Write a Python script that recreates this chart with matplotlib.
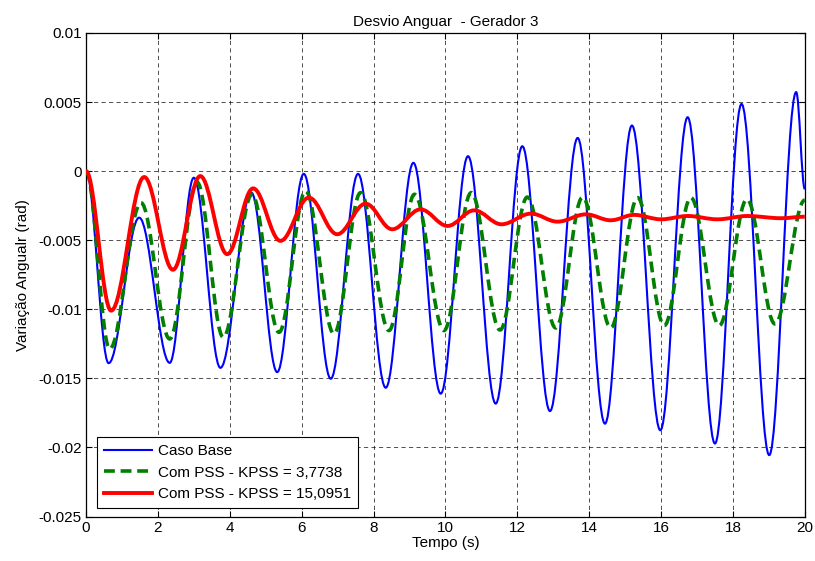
import matplotlib
matplotlib.use("Agg")
import matplotlib.pyplot as plt
from matplotlib.path import Path
from matplotlib.patches import PathPatch
from matplotlib.lines import Line2D

plt.rcParams["font.family"] = ["Liberation Sans", "DejaVu Sans"]

# peaks / troughs (time in s, deviation in rad)
base_t = [0, 0.63, 1.48, 2.33, 3.0, 3.74, 4.6, 5.32, 6.06, 6.81, 7.57, 8.34, 9.11, 9.87,
          10.63, 11.40, 12.14, 12.91, 13.68, 14.44, 15.19, 15.98, 16.74, 17.50, 18.24,
          19.01, 19.76, 20.0]
base_v = [0, -0.0139, -0.00337, -0.01388, -0.00048, -0.01424, -0.00156, -0.01455, -0.0002,
          -0.01503, -0.0002, -0.01568, 0.0006, -0.01611, 0.00108, -0.01683, 0.0018, -0.01737,
          0.0024, -0.01828, 0.0033, -0.01876, 0.0039, -0.01972, 0.00486, -0.02056, 0.00572,
          -0.0013]

pss1_t = [0, 0.66, 1.53, 2.33, 3.09, 3.82, 4.62, 5.37, 6.11, 6.90, 7.64, 8.43, 9.14, 9.96,
          10.72, 11.52, 12.28, 13.07, 13.82, 14.60, 15.35, 16.09, 16.83, 17.62, 18.39, 19.17,
          20.0]
pss1_v = [0, -0.01287, -0.00229, -0.01215, -0.0008, -0.01203, -0.00168, -0.01167, -0.00144,
          -0.01178, -0.00156, -0.01154, -0.00168, -0.01154, -0.00156, -0.0115, -0.00188,
          -0.01135, -0.00188, -0.01135, -0.00192, -0.01118, -0.00192, -0.01118, -0.00204,
          -0.01106, -0.0021]

pss2_t = [0, 0.70, 1.62, 2.42, 3.18, 3.93, 4.65, 5.41, 6.20, 6.99, 7.78, 8.52, 9.31, 10.06,
          10.80, 11.56, 12.38, 13.12, 13.91, 14.60, 15.25, 16.0, 16.74, 17.57, 18.4, 19.34, 20.0]
pss2_v = [0, -0.0101, -0.00043, -0.00714, -0.00036, -0.00601, -0.00125, -0.00505, -0.00192,
          -0.00457, -0.00236, -0.00421, -0.00277, -0.00397, -0.00284, -0.00385, -0.00308,
          -0.00366, -0.00313, -0.00356, -0.00317, -0.00349, -0.00325, -0.00349, -0.00325,
          -0.00341, -0.0033]

labels = ["Caso Base", "Com PSS - KPSS = 3,7738", "Com PSS - KPSS = 15,0951"]
x_ticks = [0, 2, 4, 6, 8, 10, 12, 14, 16, 18, 20]
y_ticks = [0.01, 0.005, 0, -0.005, -0.01, -0.015, -0.02, -0.025]
y_tick_labels = ["0.01", "0.005", "0", "-0.005", "-0.01", "-0.015", "-0.02", "-0.025"]

FS = 11


def extrema_path(ts, vs, c=0.3642):
    # cubic Bezier between successive extrema, flat tangent at each one
    verts = [(ts[0], vs[0])]
    codes = [Path.MOVETO]
    for t0, v0, t1, v1 in zip(ts[:-1], vs[:-1], ts[1:], vs[1:]):
        dt = t1 - t0
        verts += [(t0 + c * dt, v0), (t1 - c * dt, v1), (t1, v1)]
        codes += [Path.CURVE4] * 3
    return Path(verts, codes)


fig = plt.figure(figsize=(8.15, 5.61), dpi=100)
ax = fig.add_axes([0.1055, 0.0793, 0.882, 0.862])

styles = [
    dict(color="#0000ff", lw=1.5, ls="-"),
    dict(color="#007f00", lw=2.6, ls=(0, (3.0, 1.6))),
    dict(color="#ff0000", lw=2.8, ls="-"),
]
series = [(base_t, base_v), (pss1_t, pss1_v), (pss2_t, pss2_v)]
handles = []
for (ts, vs), st, lab in zip(series, styles, labels):
    patch = PathPatch(extrema_path(ts, vs), fill=False, edgecolor=st["color"],
                      linewidth=st["lw"], linestyle=st["ls"], capstyle="butt",
                      joinstyle="round", zorder=3)
    ax.add_patch(patch)
    handles.append(Line2D([], [], color=st["color"], lw=st["lw"], ls=st["ls"], label=lab))

ax.set_xlim(0, 20)
ax.set_ylim(-0.025, 0.01)
ax.set_xticks(x_ticks)
ax.set_yticks(y_ticks)
ax.set_yticklabels(y_tick_labels)
ax.tick_params(direction="in", top=True, right=True, labelsize=FS, length=4, width=0.8,
               pad=3)
ax.grid(True, color="black", linestyle=(0, (5, 4)), linewidth=0.6, alpha=0.8)
for sp in ax.spines.values():
    sp.set_linewidth(0.9)

ax.set_title("Desvio Anguar  - Gerador 3", fontsize=FS, pad=5)
ax.set_xlabel("Tempo (s)", fontsize=FS, labelpad=1)
ax.set_ylabel("Variação Angualr (rad)", fontsize=FS, labelpad=6)

leg = ax.legend(handles=handles, loc="lower left", bbox_to_anchor=(0.016, 0.017),
                borderaxespad=0, fontsize=FS, handlelength=3.1, fancybox=False,
                framealpha=1, edgecolor="black", labelspacing=0.5, handletextpad=0.4,
                borderpad=0.45)
leg.get_frame().set_linewidth(0.8)

fig.savefig("out.png", dpi=100, facecolor="white")
